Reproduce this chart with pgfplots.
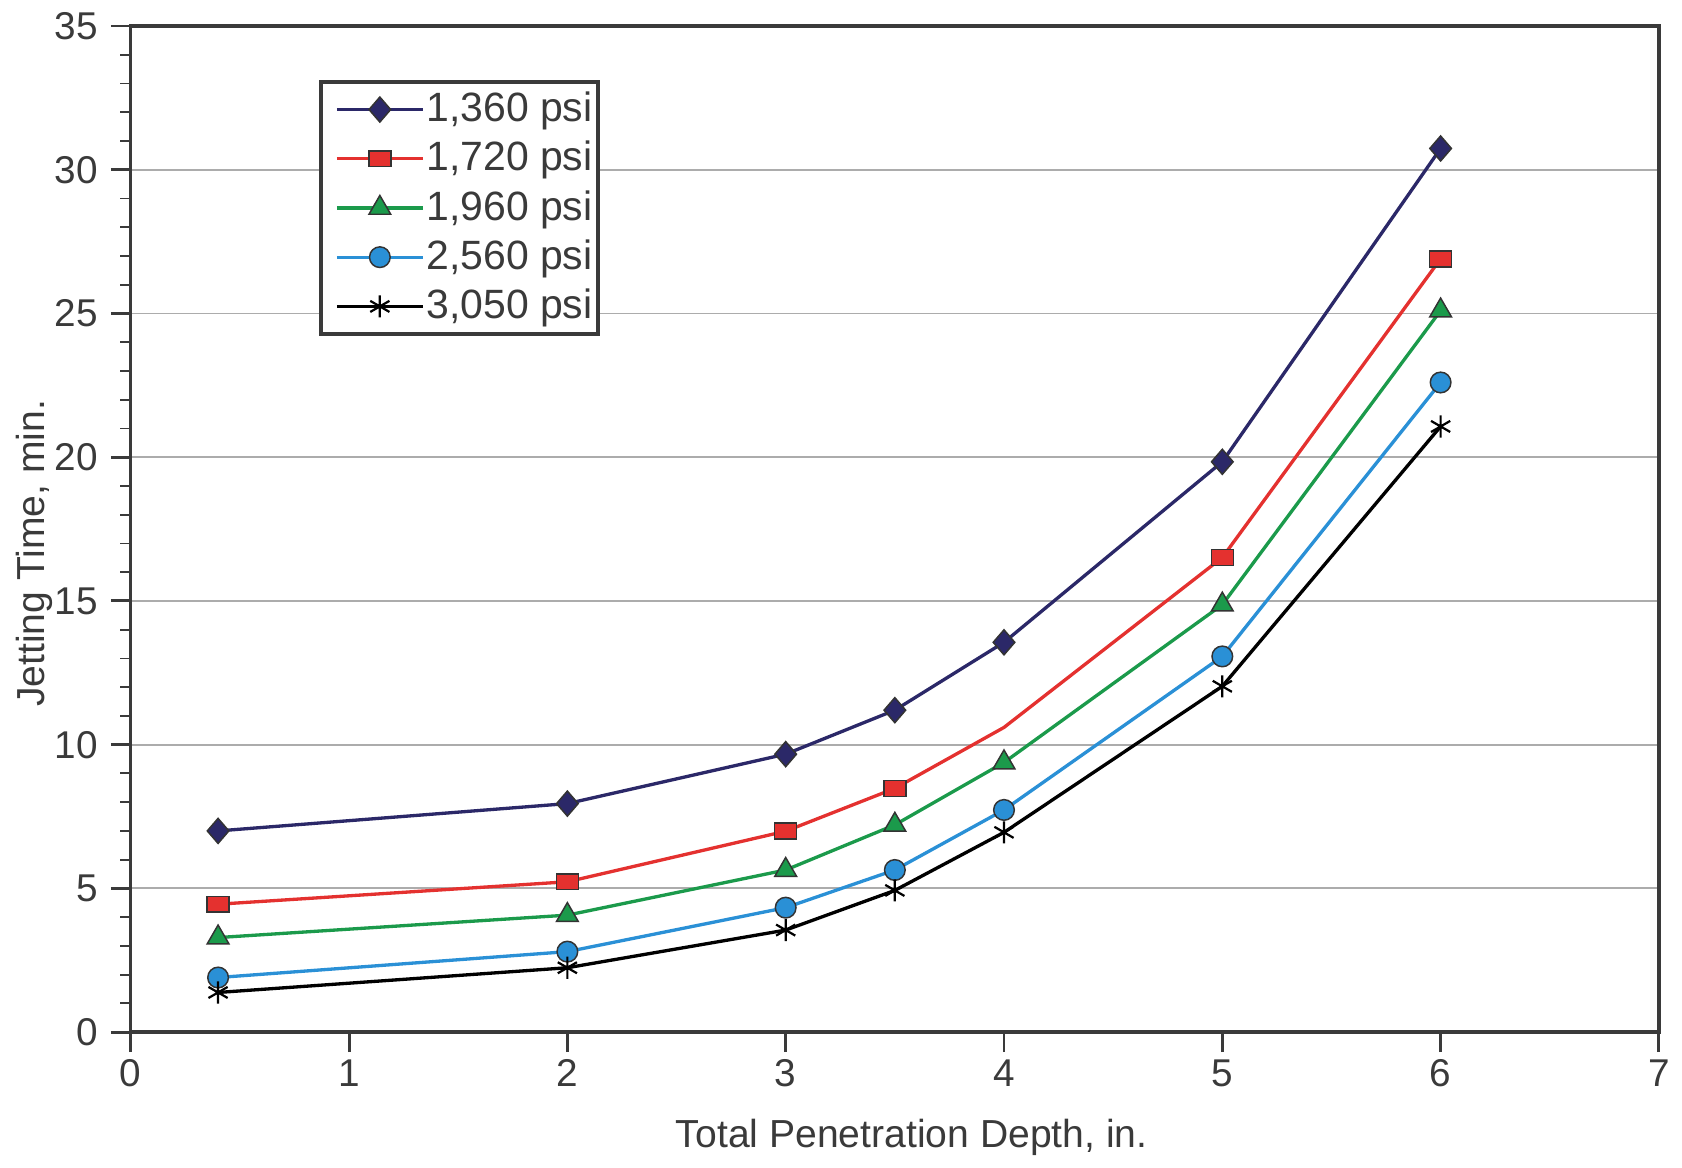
\documentclass[border=0pt]{standalone}
\usepackage{pgfplots}
\pgfplotsset{compat=1.18}
\usepackage{fontspec}
\setmainfont{Liberation Sans}
\usetikzlibrary{calc}
\definecolor{navyc}{HTML}{2B2868}
\definecolor{redc}{HTML}{E4312F}
\definecolor{greenc}{HTML}{1B9A4B}
\definecolor{bluec}{HTML}{2A90D6}
\definecolor{axc}{HTML}{3A3A3A}
\begin{document}
\begin{tikzpicture}
\begin{axis}[
  name=ax,
  scale only axis,
  width=14.563cm, height=9.588cm,
  xmin=0, xmax=7, ymin=0, ymax=35,
  xtick={0,1,...,7}, ytick={0,5,...,35},
  minor ytick={1,2,3,4,6,7,8,9,11,12,13,14,16,17,18,19,21,22,23,24,26,27,28,29,31,32,33,34},
  tick align=outside,
  xtick pos=bottom, ytick pos=left,
  major tick length=0.19cm, minor tick length=0.1cm,
  every tick/.style={axc, line width=0.8pt},
  minor tick style={axc, line width=0.5pt},
  axis line style={axc, line width=0.9pt},
  ymajorgrids, grid style={gray!65, line width=0.5pt},
  /pgf/number format/assume math mode=true,
  tick label style={font=\fontsize{10.5}{12}\selectfont, text=axc},
  xticklabel style={yshift=0.05cm},
  xlabel={Total Penetration Depth, in.},
  ylabel={Jetting Time, min.},
  label style={font=\fontsize{10.6}{12}\selectfont, text=axc},
  xlabel style={at={(rel axis cs:0.511,0)}, anchor=center, yshift=-1.0cm},
  ylabel style={at={(rel axis cs:0,0.476)}, anchor=center, yshift=0.92cm},
  legend style={at={(rel axis cs:0.1234,0.946)}, anchor=north west,
    draw=axc, line width=0.9pt, font=\fontsize{11.1}{12}\selectfont, text=axc,
    row sep=0pt, inner xsep=1pt, inner ysep=0.8pt,
    nodes={inner xsep=0.5pt, inner ysep=1.9pt},
    /tikz/every even column/.append style={column sep=0pt}},
  legend cell align=left,
  legend image code/.code={
    \path (-0.1cm,0cm);
    \draw[#1, mark indices={2}] plot coordinates {(0cm,0cm) (0.41cm,0cm) (0.82cm,0cm)};},
]
\addplot[navyc, line width=0.9pt, mark=diamond*, mark size=3.4pt,
  mark options={fill=navyc, draw=black!80, line width=0.4pt, xscale=1.15}]
  coordinates {(0.4,7.0) (2,7.95) (3,9.67) (3.5,11.2) (4,13.56) (5,19.84) (6,30.74)};
\addlegendentry{1,360 psi}
\addplot[redc, line width=0.9pt, mark=square*, mark size=3pt, mark indices={1,2,3,4,6,7},
  mark options={fill=redc, draw=black!80, line width=0.4pt, yscale=0.72, solid}]
  coordinates {(0.4,4.45) (2,5.23) (3,6.99) (3.5,8.48) (4,10.6) (5,16.51) (6,26.9)};
\addlegendentry{1,720 psi}
\addplot[greenc, line width=0.9pt, mark=triangle*, mark size=3.4pt,
  mark options={fill=greenc, draw=black!80, line width=0.4pt}]
  coordinates {(0.4,3.29) (2,4.07) (3,5.64) (3.5,7.21) (4,9.38) (5,14.87) (6,25.1)};
\addlegendentry{1,960 psi}
\addplot[bluec, line width=0.9pt, mark=*, mark size=2.8pt,
  mark options={fill=bluec, draw=black!80, line width=0.4pt}]
  coordinates {(0.4,1.9) (2,2.8) (3,4.33) (3.5,5.64) (4,7.73) (5,13.07) (6,22.6)};
\addlegendentry{2,560 psi}
\addplot[black, line width=0.9pt, mark=asterisk, mark size=3pt,
  mark options={black, line width=0.6pt}]
  coordinates {(0.4,1.38) (2,2.24) (3,3.55) (3.5,4.93) (4,6.95) (5,12.03) (6,21.07)};
\addlegendentry{3,050 psi}
\end{axis}
\path ($(ax.south west)+(-1.246cm,-1.256cm)$) rectangle ($(ax.north east)+(0.19cm,0.224cm)$);
\end{tikzpicture}
\end{document}
